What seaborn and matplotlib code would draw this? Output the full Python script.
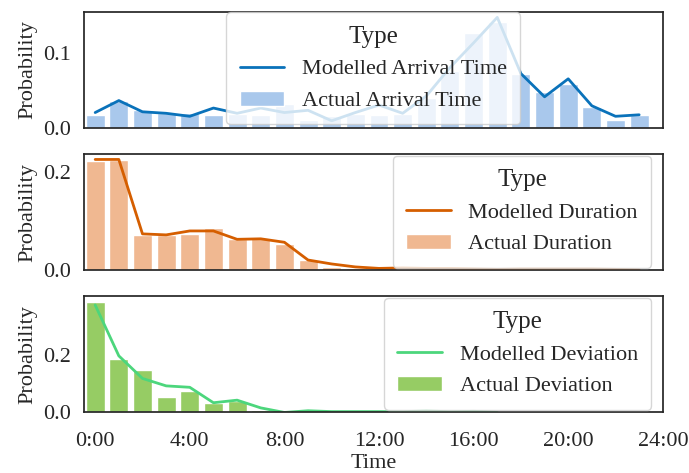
import seaborn as sns
import matplotlib.pyplot as plt
import pandas as pd
from matplotlib.ticker import FormatStrFormatter

# hours of the day (bar / line positions)
hours = list(range(24))
dev_line_hours = list(range(18))

# Arrival time
arrival_actual = [0.018, 0.037, 0.024, 0.021, 0.020, 0.018, 0.019, 0.018, 0.033, 0.011, 0.017, 0.019,
                  0.018, 0.019, 0.040, 0.076, 0.127, 0.142, 0.072, 0.048, 0.059, 0.029, 0.011, 0.018]
arrival_model = [0.021, 0.037, 0.022, 0.020, 0.016, 0.027, 0.020, 0.027, 0.021, 0.024, 0.010, 0.021,
                 0.031, 0.020, 0.043, 0.081, 0.114, 0.148, 0.073, 0.042, 0.066, 0.030, 0.016, 0.018]

# Duration
duration_actual = [0.222, 0.224, 0.071, 0.071, 0.074, 0.085, 0.063, 0.066, 0.053, 0.021, 0.006, 0.004,
                   0.003, 0.002, 0.002, 0.001, 0.001, 0.001, 0.001, 0.001, 0.001, 0.001, 0.001, 0.001]
duration_model = [0.225, 0.225, 0.074, 0.072, 0.080, 0.080, 0.063, 0.064, 0.057, 0.021, 0.013, 0.007,
                  0.004, 0.005, 0.004, 0.004, 0.003, 0.002, 0.003, 0.003, 0.003, 0.003, 0.002, 0.001]

# Deviation
deviation_actual = [0.388, 0.187, 0.149, 0.055, 0.076, 0.034, 0.040, 0.007, 0.0, 0.0, 0.0, 0.0,
                    0.0, 0.0, 0.0, 0.0, 0.0, 0.0, 0.0, 0.0, 0.0, 0.0, 0.0, 0.0]
deviation_model = [0.376, 0.198, 0.119, 0.093, 0.088, 0.034, 0.043, 0.016, 0.0, 0.006, 0.003, 0.003,
                   0.003, 0.002, 0.006, 0.002, 0.004, 0.0]

xtick_pos = [0, 4, 8, 12, 16, 20, 24]
xtick_labels = ["0:00", "4:00", "8:00", "12:00", "16:00", "20:00", "24:00"]

sns.set_theme(style="white")
plt.rcParams['font.family'] = ['Liberation Serif', 'DejaVu Serif']
plt.rcParams.update({'axes.labelsize': 16, 'xtick.labelsize': 16, 'ytick.labelsize': 16,
                     'legend.fontsize': 16, 'legend.title_fontsize': 18,
                     'axes.edgecolor': '#262626', 'xtick.major.pad': 8})

fig, axes = plt.subplots(3, 1, figsize=(6.89, 4.73), dpi=100, sharex=True)
fig.subplots_adjust(left=0.122, right=0.962, top=0.975, bottom=0.128, hspace=0.22)

panels = [
    ("Arrival Time", arrival_actual, hours, arrival_model, "#a9c8ec", "#0a72ba", [0, 0.1],
     dict(loc="upper center", bbox_to_anchor=(0.5, 0.995))),
    ("Duration", duration_actual, hours, duration_model, "#f0b891", "#d55e00", [0, 0.2],
     dict(loc="upper right", bbox_to_anchor=(0.98, 0.985))),
    ("Deviation", deviation_actual, dev_line_hours, deviation_model, "#96cc64", "#4cd67c", [0, 0.2],
     dict(loc="upper right", bbox_to_anchor=(0.98, 0.985))),
]

for ax, (name, actual, lh, model, bar_c, line_c, yt, leg_kw) in zip(axes, panels):
    bar_df = pd.DataFrame({"Time": hours, "Probability": actual})
    line_df = pd.DataFrame({"Time": lh, "Probability": model})
    sns.barplot(data=bar_df, x="Time", y="Probability", native_scale=True, color=bar_c,
                saturation=1, errorbar=None, ax=ax)
    sns.lineplot(data=line_df, x="Time", y="Probability", color=line_c, linewidth=2, ax=ax)
    ax.set_xlim(-0.47, 24)
    ax.set_ylim(bottom=0)
    ax.set_yticks(yt)
    ax.yaxis.set_major_formatter(FormatStrFormatter('%.1f'))
    ax.set_ylabel("Probability")
    ax.legend(handles=[ax.lines[0], ax.patches[0]],
              labels=["Modelled " + name, "Actual " + name],
              title="Type", borderaxespad=0, borderpad=0.6, **leg_kw)

axes[-1].set_xticks(xtick_pos)
axes[-1].set_xticklabels(xtick_labels)
axes[-1].set_xlabel("Time", labelpad=2)
for ax in axes[:-1]:
    ax.set_xlabel("")

fig.savefig("out.png", dpi=100)
